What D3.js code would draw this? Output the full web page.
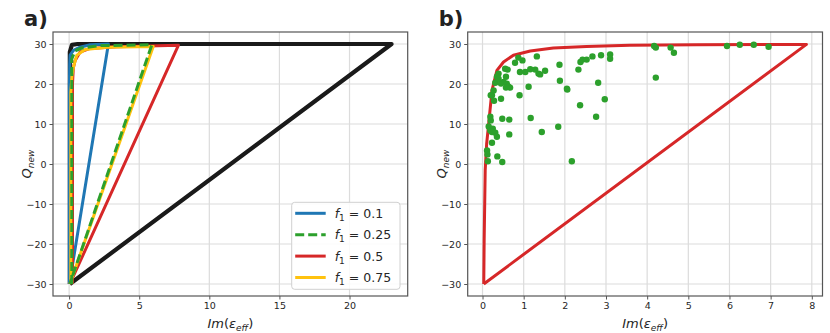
<!DOCTYPE html>
<html>
<head>
<meta charset="utf-8">
<script src="https://cdn.jsdelivr.net/npm/d3@7"></script>
<style>
  body { margin: 0; background: #fff; }
  text { font-family: "DejaVu Sans", sans-serif; }
</style>
</head>
<body>
<svg id="chart" width="830" height="333"></svg>
<script>
// panel a: closed curves, [Im(eps_eff), Q_new]
let curveBlack = [[0.05,-30],[0.05,28],[0.2,29.8],[0.6,30],[23,30],[0.05,-30]];
let curveF010 = [[0.02,-30],[0.02,20],[0.04,25],[0.07,27.2],[0.31,28.4],[0.78,29.2],[1.5,29.8],[2.8,30],[0.02,-30]];
let curveF025 = [[0.19,-30],[0.19,20],[0.19,26.3],[0.43,28.3],[0.9,29.0],[2.2,29.6],[5.9,29.8],[0.05,-30]];
let curveF050 = [[0.24,-30],[0.24,20],[0.3,24],[0.43,25.9],[0.78,28.0],[1.5,28.9],[3.4,29.3],[7.8,29.7],[0.05,-30]];
let curveF075 = [[0.12,-30],[0.12,18],[0.2,22],[0.31,24.3],[0.55,27.2],[1.14,28.6],[2.7,29.2],[6.0,29.4],[0.05,-30]];

let legendLabels = ["0.1", "0.25", "0.5", "0.75"];
let legendColors = ["#1f77b4", "#2ca02c", "#d62728", "#ffc20e"];

// panel b
let curveB = [[0.03,-30],[0.04,-19],[0.065,-1.6],[0.1,5],[0.15,10.1],[0.23,18.4],[0.35,23.4],[0.51,25.5],
  [0.75,27.2],[1.16,28.25],[1.72,29.0],[2.53,29.4],[3.58,29.7],[5.2,29.8],[7.87,29.9],[0.03,-30]];
let scatterIm = [1.32,0.87,0.79,0.97,1.87,0.55,0.61,0.39,0.35,0.57,0.51,0.31,0.45,0.59,0.57,0.67,0.91,1.04,1.16,1.28,
  1.36,1.40,1.52,2.33,1.88,2.05,2.06,1.12,0.90,0.27,0.23,0.28,0.45,2.81,2.97,2.37,2.76,1.17,0.48,0.65,
  0.19,0.20,0.15,0.25,0.19,0.31,0.35,1.84,1.44,0.65,0.23,0.11,0.12,0.36,0.13,0.48,2.17,2.38,2.43,2.53,
  2.67,2.88,3.10,3.10,4.17,4.21,4.57,4.65,4.21,5.94,6.25,6.59,6.95,0.39,0.20,0.23,0.63];
let scatterQ = [26.9,26.6,25.3,25.9,24.8,23.8,23.6,22.6,21.8,21.8,20.5,20.3,20.1,20.1,19.1,19.1,23.0,23.0,23.7,23.6,
  22.6,22.4,23.3,23.6,20.8,18.8,18.6,19.3,17.2,18.4,17.2,15.8,16.3,20.3,16.2,14.7,11.8,11.5,11.3,11.1,
  11.8,10.9,9.4,8.8,8.4,7.8,6.8,9.3,8.0,7.4,5.3,3.4,2.4,1.9,0.7,0.5,0.7,25.5,26.1,26.1,
  26.9,27.2,27.4,26.3,29.5,29.1,29.1,27.8,21.6,29.5,29.8,29.8,29.3,21.3,17.2,8.0,19.3];

let yTicks = [-30, -20, -10, 0, 10, 20, 30];
let xTicksA = [0, 5, 10, 15, 20];
let xTicksB = [0, 1, 2, 3, 4, 5, 6, 7, 8];

let svg = d3.select("#chart");
let plotTop = 32, plotBottom = 296;
let spine = "#555", gridCol = "#dcdcdc", txt = "#262626";

function makePanel(left, right, xDom, xTicks, label) {
    let x = d3.scaleLinear().domain(xDom).range([left, right]);
    let y = d3.scaleLinear().domain([-33, 33]).range([plotBottom, plotTop]);
    let g = svg.append("g");

    g.selectAll(".gx").data(xTicks).enter().append("line")
        .attr("x1", d => x(d)).attr("x2", d => x(d))
        .attr("y1", plotTop).attr("y2", plotBottom)
        .attr("stroke", gridCol).attr("stroke-width", 1.2);
    g.selectAll(".gy").data(yTicks).enter().append("line")
        .attr("x1", left).attr("x2", right)
        .attr("y1", d => y(d)).attr("y2", d => y(d))
        .attr("stroke", gridCol).attr("stroke-width", 1.2);

    let xAxis = d3.axisBottom(x).tickValues(xTicks).tickSize(3.5).tickPadding(3)
        .tickFormat(d => String(d).replace("-", "\u2212"));
    let yAxis = d3.axisLeft(y).tickValues(yTicks).tickSize(3.5).tickPadding(3)
        .tickFormat(d => String(d).replace("-", "\u2212"));
    let ax = g.append("g").attr("transform", "translate(0," + plotBottom + ")").call(xAxis);
    let ay = g.append("g").attr("transform", "translate(" + left + ",0)").call(yAxis);
    [ax, ay].forEach(a => {
        a.select(".domain").remove();
        a.selectAll("line").attr("stroke", spine);
        a.selectAll("text").attr("fill", txt).style("font-size", "9.5px")
            .style("font-family", "DejaVu Sans");
    });

    // y label Q_new
    let yl = svg.append("text")
        .attr("transform", "translate(" + (left - 22) + "," + ((plotTop + plotBottom) / 2) + ") rotate(-90)")
        .attr("text-anchor", "middle").attr("fill", txt).style("font-size", "13px");
    yl.append("tspan").style("font-style", "italic").text("Q");
    yl.append("tspan").style("font-style", "italic").style("font-size", "9px").attr("dy", 3).text("new");

    // x label Im(eps_eff)
    let xl = svg.append("text")
        .attr("x", (left + right) / 2).attr("y", 328)
        .attr("text-anchor", "middle").attr("fill", txt).style("font-size", "13px");
    xl.append("tspan").style("font-style", "italic").text("Im");
    xl.append("tspan").text("(");
    xl.append("tspan").style("font-style", "italic").text("\u03b5");
    xl.append("tspan").style("font-style", "italic").style("font-size", "9px").attr("dy", 3).text("eff");
    xl.append("tspan").attr("dy", -3).text(")");

    svg.append("text").attr("x", left - 29).attr("y", 26)
        .style("font-size", "21px").style("font-weight", "bold").attr("fill", "#222").text(label);

    return {x: x, y: y, g: g, left: left, right: right};
}

function frame(p) {
    svg.append("rect").attr("x", p.left).attr("y", plotTop)
        .attr("width", p.right - p.left).attr("height", plotBottom - plotTop)
        .attr("fill", "none").attr("stroke", spine).attr("stroke-width", 1.2);
}

// panel a
let pa = makePanel(53, 407.7, [-1.15, 24.15], xTicksA, "a)");
let lineA = d3.line().x(d => pa.x(d[0])).y(d => pa.y(d[1]));
svg.append("clipPath").attr("id", "clipA").append("rect")
    .attr("x", 53).attr("y", plotTop).attr("width", 407.7 - 53).attr("height", plotBottom - plotTop);

let seriesA = [
    {data: curveBlack, color: "#1a1a1a", w: 4.2, dash: null},
    {data: curveF010, color: legendColors[0], w: 3, dash: null},
    {data: curveF050, color: legendColors[2], w: 3, dash: null},
    {data: curveF075, color: legendColors[3], w: 3, dash: null},
    {data: curveF025, color: legendColors[1], w: 3, dash: "9,4"}
];
seriesA.forEach(s => {
    svg.append("path").datum(s.data).attr("d", lineA)
        .attr("fill", "none").attr("stroke", s.color).attr("stroke-width", s.w)
        .attr("stroke-linejoin", "round").attr("stroke-dasharray", s.dash)
        .attr("clip-path", "url(#clipA)");
});
frame(pa);

// legend
let lg = svg.append("g").attr("transform", "translate(291.7,202.3)");
lg.append("rect").attr("width", 108.3).attr("height", 87).attr("rx", 3)
    .attr("fill", "white").attr("fill-opacity", 0.85).attr("stroke", "#d0d0d0");
legendLabels.forEach((lab, i) => {
    let yy = 11 + i * 21.4;
    lg.append("line").attr("x1", 3.5).attr("x2", 34).attr("y1", yy).attr("y2", yy)
        .attr("stroke", legendColors[i]).attr("stroke-width", 3)
        .attr("stroke-dasharray", i === 1 ? "9,4" : null);
    let t = lg.append("text").attr("x", 43).attr("y", yy + 4.5).attr("fill", txt).style("font-size", "12.5px");
    t.append("tspan").style("font-style", "italic").text("f");
    t.append("tspan").style("font-size", "9px").attr("dy", 3).text("1");
    t.append("tspan").attr("dy", -3).text(" = " + lab);
});

// panel b
let pb = makePanel(467.7, 822.5, [-0.36, 8.26], xTicksB, "b)");
let lineB = d3.line().x(d => pb.x(d[0])).y(d => pb.y(d[1]));
svg.append("path").datum(curveB).attr("d", lineB)
    .attr("fill", "none").attr("stroke", "#d62728").attr("stroke-width", 3)
    .attr("stroke-linejoin", "round");
svg.selectAll(".dot").data(d3.range(scatterIm.length)).enter().append("circle")
    .attr("cx", i => pb.x(scatterIm[i])).attr("cy", i => pb.y(scatterQ[i]))
    .attr("r", 3.2).attr("fill", "#2ca02c");
frame(pb);
</script>
</body>
</html>
